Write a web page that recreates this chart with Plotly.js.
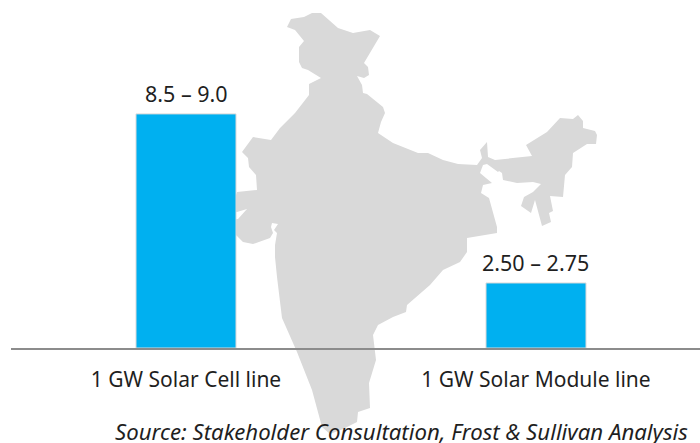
<!DOCTYPE html>
<html><head><meta charset="utf-8">
<script src="https://cdn.plot.ly/plotly-3.0.1.min.js"></script>
<style>html,body{margin:0;padding:0;background:#fff}#c{width:700px;height:443px}</style>
</head><body><div id="c"></div>
<script>
var categories = ['1 GW Solar Cell line', '1 GW Solar Module line'];
var barValues = [9.0, 2.5];
var barLabels = ['8.5 – 9.0', '2.50 – 2.75'];
var sourceText = 'Source: Stakeholder Consultation, Frost & Sullivan Analysis';
var mapX = [312,321,338,353,370,380,364,368,369,364,357,362,363,367,383,385,381,378,393,418,428,443,458,477,482,480,487,488,495,532,526,547,560,573,578,583,583,595,597,596,587,573,572,565,563,550,553,549,551,542,535,531,521,524,533,541,533,517,503,502,499,498,487,483,480,492,483,481,489,492,497,497,467,467,460,443,430,407,406,393,378,373,376,369,370,358,357,343,330,322,318,312,297,282,277,275,275,277,274,278,272,271,273,270,253,243,237,230,230,238,247,237,230,237,257,256,249,248,242,253,271,280,295,309,309,321,308,302,299,299,304,295,287,291,304,312];
var mapY = [13,13,28,33,30,36,63,67,75,78,76,85,93,94,107,113,122,133,143,153,153,160,164,165,158,150,142,157,160,156,145,132,118,119,115,121,128,131,135,144,144,153,167,175,197,196,211,213,222,226,200,213,206,197,192,184,182,183,180,173,171,172,164,165,173,183,185,193,198,210,227,233,238,252,262,270,285,305,312,317,325,335,360,383,408,412,422,429,434,427,413,390,352,318,277,257,245,233,230,224,223,227,233,238,244,242,236,230,220,219,209,212,213,192,190,175,167,158,152,137,140,128,113,95,84,78,70,68,62,47,41,30,27,19,17,13];
var ink = '#1f1f1f';
var font = 'Noto Sans, sans-serif';
var traces = [
  {type:'scatter', mode:'lines', x:mapX, y:mapY, xaxis:'x', yaxis:'y', fill:'toself', fillcolor:'#d9d9d9', line:{width:0,color:'#d9d9d9'}, hoverinfo:'skip', showlegend:false},
  {type:'bar', x:categories, y:barValues, xaxis:'x2', yaxis:'y2', width:0.2857, marker:{color:'#00b0f0', line:{color:'#d9d9d9', width:1}}, hoverinfo:'skip', showlegend:false}
];
var notes = categories.map(function(c,i){
  return {xref:'x2', yref:'y2', x:c, y:barValues[i], xanchor:'center', yanchor:'bottom', yshift:4, showarrow:false, text:barLabels[i], font:{family:font,size:21.5,color:ink}};
});
notes.push({xref:'paper', yref:'paper', x:690/700, y:1-431/443, xanchor:'right', yanchor:'middle', showarrow:false, text:sourceText, font:{family:font,size:22.2,color:ink,style:'italic'}});
var layout = {
  width:700, height:443, margin:{l:0,r:0,t:0,b:0}, paper_bgcolor:'#fff', plot_bgcolor:'rgba(0,0,0,0)', showlegend:false,
  xaxis:{domain:[0,1], range:[0,700], visible:false, fixedrange:true},
  yaxis:{domain:[0,1], range:[443,0], visible:false, fixedrange:true},
  xaxis2:{domain:[11/700,1], anchor:'y2', type:'category', range:[-0.5,1.4686], showgrid:false, zeroline:false, showline:true, linecolor:'#8c8c8c', linewidth:1.5, ticks:'', ticklabelstandoff:12, tickfont:{family:font,size:21,color:ink}, fixedrange:true},
  yaxis2:{domain:[95/443,1], anchor:'x2', range:[0,13.38], visible:false, fixedrange:true},
  annotations:notes
};
Plotly.newPlot('c', traces, layout, {displayModeBar:false, staticPlot:true});
</script></body></html>
